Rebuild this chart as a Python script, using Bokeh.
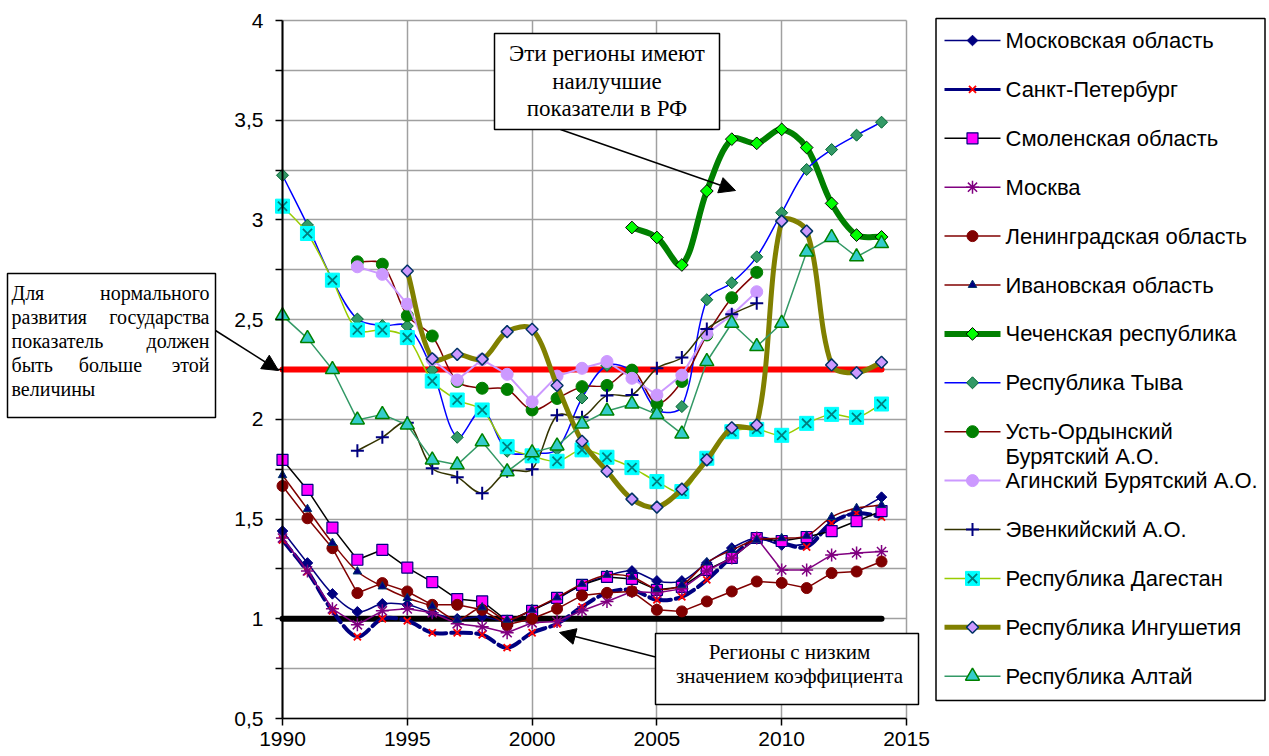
import numpy as np
from bokeh.plotting import figure
from bokeh.models import Range1d, FixedTicker, BoxAnnotation, Label, Arrow, NormalHead, ColumnDataSource
from bokeh.layouts import row
from bokeh.core.properties import value
from bokeh.embed import file_html
from bokeh.resources import INLINE

# ---------------- data ----------------
years = list(range(1990, 2015))
years_chechnya = list(range(2004, 2015))
years_ao = list(range(1993, 2010))
years_ingush = list(range(1995, 2015))

moscow_obl = [1.44, 1.28, 1.125, 1.035, 1.075, 1.07, 1.03, 1.0, 1.01, 0.99, 1.045, 1.10, 1.17,
              1.215, 1.24, 1.19, 1.19, 1.28, 1.355, 1.405, 1.37, 1.38, 1.49, 1.54, 1.61]
spb = [1.395, 1.237, 1.04, 0.91, 1.0, 0.99, 0.93, 0.93, 0.92, 0.855, 0.93, 0.975, 1.06,
       1.13, 1.145, 1.095, 1.11, 1.195, 1.31, 1.40, 1.38, 1.36, 1.48, 1.53, 1.51]
smolensk = [1.797, 1.646, 1.457, 1.296, 1.346, 1.257, 1.184, 1.099, 1.087, 0.99, 1.04, 1.105, 1.17,
            1.21, 1.20, 1.145, 1.16, 1.245, 1.305, 1.405, 1.39, 1.41, 1.44, 1.49, 1.54]
moskva = [1.405, 1.24, 1.05, 0.97, 1.04, 1.05, 1.03, 0.975, 0.96, 0.93, 0.98, 0.987, 1.04,
          1.087, 1.137, 1.13, 1.15, 1.24, 1.305, 1.405, 1.245, 1.245, 1.32, 1.33, 1.337]
leningrad = [1.666, 1.504, 1.354, 1.129, 1.179, 1.137, 1.07, 1.07, 1.045, 0.97, 1.0, 1.05, 1.117,
             1.13, 1.137, 1.045, 1.037, 1.087, 1.137, 1.187, 1.18, 1.154, 1.229, 1.237, 1.287]
ivanovo = [1.72, 1.55, 1.38, 1.237, 1.162, 1.104, 1.062, 0.995, 1.057, 0.995, 1.045, 1.107, 1.175,
           1.22, 1.21, 1.15, 1.17, 1.282, 1.345, 1.396, 1.404, 1.416, 1.51, 1.555, 1.57]
chechnya = [2.962, 2.912, 2.774, 3.145, 3.405, 3.384, 3.454, 3.363, 3.083, 2.924, 2.915]
tyva = [3.224, 2.974, 2.70, 2.503, 2.47, 2.468, 2.247, 1.91, 2.047, 1.84, 1.83, 1.85, 2.107,
        2.27, 2.24, 2.047, 2.064, 2.60, 2.685, 2.815, 3.036, 3.253, 3.353, 3.425, 3.49]
ust_orda = [2.79, 2.778, 2.52, 2.418, 2.19, 2.156, 2.15, 2.047, 2.105, 2.164, 2.17, 2.247,
            2.08, 2.19, 2.423, 2.61, 2.737]
aginsky = [2.765, 2.727, 2.578, 2.30, 2.197, 2.30, 2.226, 2.088, 2.217, 2.256, 2.29, 2.206,
           2.122, 2.222, 2.43, 2.523, 2.64]
evenki = [1.843, 1.91, 1.983, 1.755, 1.71, 1.63, 1.74, 1.75, 2.02, 2.01, 2.12, 2.122,
          2.256, 2.31, 2.453, 2.527, 2.582]
dagestan = [3.069, 2.932, 2.698, 2.448, 2.448, 2.41, 2.192, 2.097, 2.047, 1.863, 1.817, 1.79, 1.847,
            1.81, 1.758, 1.688, 1.638, 1.805, 1.938, 1.95, 1.92, 1.98, 2.025, 2.01, 2.077]
ingushetia = [2.744, 2.304, 2.326, 2.302, 2.44, 2.452, 2.17, 1.89, 1.74, 1.60, 1.56, 1.65,
              1.797, 1.958, 1.972, 2.994, 2.944, 2.273, 2.234, 2.286]
altai = [2.52, 2.406, 2.25, 1.997, 2.025, 1.972, 1.797, 1.772, 1.888, 1.738, 1.833, 1.867, 1.977,
         2.042, 2.077, 2.025, 1.927, 2.29, 2.482, 2.365, 2.482, 2.84, 2.912, 2.815, 2.882]

norm_high = 2.25   # "normal development" threshold
norm_low = 1.0     # low-coefficient threshold

x_min, x_max = 1990, 2015
y_min, y_max = 0.5, 4.0
x_ticks = [1990, 1995, 2000, 2005, 2010, 2015]
x_tick_labels = ["1990", "1995", "2000", "2005", "2010", "2015"]
y_ticks = [0.5, 0.75, 1.0, 1.25, 1.5, 1.75, 2.0, 2.25, 2.5, 2.75, 3.0, 3.25, 3.5, 3.75, 4.0]
y_tick_labels = ["0,5", "", "1", "", "1,5", "", "2", "", "2,5", "", "3", "", "3,5", "", "4"]

# ---------------- styles ----------------
D45 = np.pi / 4
series = [
    ("Московская область", years, moscow_obl, True,
     dict(line_color="#000080", line_width=1.5),
     [dict(marker="square", angle=D45, size=7.5, fill_color="#000080", line_color="#000080")]),
    ("Санкт-Петербург", years, spb, True,
     dict(line_color="#000080", line_width=4, line_dash="14 5"),
     [dict(marker="x", size=10, line_color="#FF0000", line_width=1.8)]),
    ("Смоленская область", years, smolensk, False,
     dict(line_color="#000000", line_width=1.5),
     [dict(marker="square", size=11, fill_color="#FF00FF", line_color="#000080", line_width=1.2)]),
    ("Москва", years, moskva, False,
     dict(line_color="#800080", line_width=1.5),
     [dict(marker="asterisk", size=13, line_color="#800080", line_width=1.5)]),
    ("Ленинградская область", years, leningrad, False,
     dict(line_color="#800000", line_width=1.5),
     [dict(marker="circle", size=11, fill_color="#800000", line_color="#800000")]),
    ("Ивановская область", years, ivanovo, True,
     dict(line_color="#800000", line_width=1.5),
     [dict(marker="triangle", size=8.5, fill_color="#000080", line_color="#003366", line_width=1)]),
    ("Чеченская республика", years_chechnya, chechnya, True,
     dict(line_color="#008000", line_width=6),
     [dict(marker="square", angle=D45, size=9, fill_color="#00FF00", line_color="#000000", line_width=1)]),
    ("Республика Тыва", years, tyva, True,
     dict(line_color="#0000FF", line_width=1.5),
     [dict(marker="square", angle=D45, size=8.5, fill_color="#339966", line_color="#006633", line_width=1)]),
    ("Усть-Ордынский\nБурятский А.О.", years_ao, ust_orda, True,
     dict(line_color="#800000", line_width=1.5),
     [dict(marker="circle", size=12, fill_color="#008000", line_color="#008000")]),
    ("Агинский Бурятский А.О.", years_ao, aginsky, False,
     dict(line_color="#CC99FF", line_width=2),
     [dict(marker="circle", size=12, fill_color="#CC99FF", line_color="#CC99FF")]),
    ("Эвенкийский А.О.", years_ao, evenki, True,
     dict(line_color="#333300", line_width=1.5),
     [dict(marker="cross", size=13, line_color="#000080", line_width=2)]),
    ("Республика Дагестан", years, dagestan, True,
     dict(line_color="#99CC00", line_width=1.5),
     [dict(marker="square", size=14, fill_color="#00FFFF", line_color="#00FFFF", line_width=1),
      dict(marker="x", size=13, line_color="#008080", line_width=1.8)]),
    ("Республика Ингушетия", years_ingush, ingushetia, True,
     dict(line_color="#808000", line_width=5),
     [dict(marker="square", angle=D45, size=8.5, fill_color="#CC99FF", line_color="#003366", line_width=1.5)]),
    ("Республика Алтай", years, altai, False,
     dict(line_color="#339966", line_width=1.5),
     [dict(marker="triangle", size=14, fill_color="#33CCCC", line_color="#008000", line_width=1.5)]),
]

# ---------------- layout geometry (pixels) ----------------
MAIN_W, H = 930, 756
FRAME_L, FRAME_R, FRAME_T, FRAME_B = 282, 906, 20, 718
SX = (FRAME_R - FRAME_L) / (x_max - x_min)
SY = (FRAME_B - FRAME_T) / (y_max - y_min)


def smooth_segments(xs, ys):
    P = np.column_stack([np.asarray(xs, float) * SX, np.asarray(ys, float) * SY])
    n = len(P)
    M = np.zeros_like(P)
    for i in range(n):
        a = P[max(i - 1, 0)]
        b = P[i]
        c = P[min(i + 1, n - 1)]
        den = np.linalg.norm(b - a) + np.linalg.norm(c - b)
        M[i] = (c - a) / den if den > 0 else 0
    d = np.linalg.norm(P[1:] - P[:-1], axis=1)[:, None]
    C0 = P[:-1] + M[:-1] * d / 3
    C1 = P[1:] - M[1:] * d / 3
    return dict(x0=P[:-1, 0] / SX, y0=P[:-1, 1] / SY, x1=P[1:, 0] / SX, y1=P[1:, 1] / SY,
                cx0=C0[:, 0] / SX, cy0=C0[:, 1] / SY, cx1=C1[:, 0] / SX, cy1=C1[:, 1] / SY)


# ---------------- main figure (frame = whole canvas, axes at fixed location) ----------------
xr = Range1d(x_min - FRAME_L / SX, x_max + (MAIN_W - FRAME_R) / SX)
yr = Range1d(y_min - (H - FRAME_B) / SY, y_max + FRAME_T / SY)
p = figure(width=MAIN_W, height=H, x_range=xr, y_range=yr,
           output_backend="svg", toolbar_location=None, min_border=0)
p.background_fill_color = "white"
p.border_fill_color = "white"
p.outline_line_color = None

p.xaxis.fixed_location = y_min
p.yaxis.fixed_location = x_min
p.xaxis.bounds = (x_min, x_max)
p.yaxis.bounds = (y_min, y_max)
p.xaxis.ticker = FixedTicker(ticks=x_ticks, minor_ticks=[])
p.yaxis.ticker = FixedTicker(ticks=y_ticks, minor_ticks=[])
p.xaxis.major_label_overrides = {t: l for t, l in zip(x_ticks, x_tick_labels)}
p.yaxis.major_label_overrides = {t: l for t, l in zip(y_ticks, y_tick_labels)}
for ax in (p.xaxis, p.yaxis):
    ax.axis_line_color = "black"
    ax.major_tick_line_color = "black"
    ax.major_tick_out = 7
    ax.major_tick_in = 0
    ax.minor_tick_line_color = None
    ax.major_label_text_font = "Liberation Sans"
    ax.major_label_text_font_size = "21px"
    ax.major_label_text_color = "black"
p.xaxis.axis_line_width = 1.5
p.yaxis.axis_line_width = 2
p.xaxis.major_tick_line_width = 1.5
p.yaxis.major_tick_line_width = 1.5
p.xaxis.major_label_standoff = 6
p.yaxis.major_label_standoff = 12

p.xgrid.bounds = (x_min, x_max)
p.ygrid.bounds = (y_min, y_max)
p.xgrid.cross_bounds = (y_min, y_max)
p.ygrid.cross_bounds = (x_min, x_max)
p.grid.grid_line_color = "#A0A0A0"
p.grid.grid_line_width = 1.5
p.grid.level = "image"

# threshold lines
p.segment(x0=years[0], x1=years[-1], y0=norm_high, y1=norm_high,
          line_color="#FF0000", line_width=6, line_cap="round")
p.segment(x0=years[0], x1=years[-1], y0=norm_low, y1=norm_low,
          line_color="#000000", line_width=6, line_cap="round")

for name, xs, ys, smooth, lkw, mkws in series:
    if smooth:
        src = ColumnDataSource(smooth_segments(xs, ys))
        p.bezier(x0="x0", y0="y0", x1="x1", y1="y1", cx0="cx0", cy0="cy0", cx1="cx1", cy1="cy1",
                 source=src, line_cap="round", **lkw)
    else:
        p.line(xs, ys, line_join="round", **lkw)
    for mkw in mkws:
        p.scatter(xs, ys, **mkw)


# ---------------- annotations ----------------
def dx(px):
    return x_min + (px - FRAME_L) / SX


def dy(py):
    return y_max - (py - FRAME_T) / SY


SERIF = "Liberation Serif"


def box(l, r, t, b):
    p.add_layout(BoxAnnotation(left=dx(l), right=dx(r), top=dy(t), bottom=dy(b),
                               fill_color="white", fill_alpha=1.0,
                               line_color="black", line_width=1.5, line_alpha=1.0))


def label(x, y, text, size, align="left"):
    p.add_layout(Label(x=dx(x), y=dy(y), text=text, text_font=SERIF, text_font_size=size,
                       text_align=align, text_baseline="middle", text_color="black"))


def arrow(x0, y0, x1, y1):
    p.add_layout(Arrow(end=NormalHead(size=16, fill_color="black", line_color="black"),
                       x_start=dx(x0), y_start=dy(y0), x_end=dx(x1), y_end=dy(y1),
                       line_color="black", line_width=1.5))


# left box (justified text)
arrow(215, 330, 278, 370)
box(7, 215, 273, 417)
label(11, 292, "Для", "20px", "left")
label(209, 292, "нормального", "20px", "right")
label(11, 316, "развития", "20px", "left")
label(209, 316, "государства", "20px", "right")
label(11, 340, "показатель", "20px", "left")
label(209, 340, "должен", "20px", "right")
label(11, 364, "быть", "20px", "left")
label(110, 364, "больше", "20px", "center")
label(209, 364, "этой", "20px", "right")
label(11, 388, "величины", "20px", "left")

# top box
arrow(560, 129, 735, 190)
box(494, 719, 33, 129)
label(606.5, 53, "Эти регионы имеют", "23px", "center")
label(606.5, 81, "наилучшие", "23px", "center")
label(606.5, 108, "показатели в РФ", "23px", "center")

# bottom box
arrow(657, 657, 559, 632)
box(655, 918, 633, 704)
label(789, 651, "Регионы с низким", "21px", "center")
label(789, 675, "значением коэффициента", "21px", "center")

# ---------------- legend (separate panel) ----------------
LW = 1269 - MAIN_W
lg = figure(width=LW, height=H, x_range=Range1d(0, LW), y_range=Range1d(H, 0),
            output_backend="svg", toolbar_location=None, min_border=0)
lg.axis.visible = False
lg.grid.visible = False
lg.outline_line_color = None
lg.background_fill_color = "white"
lg.border_fill_color = "white"

lg.quad(left=5.5, right=334.5, top=18, bottom=700, fill_color="white",
        line_color="black", line_width=1.5)

tx, ty, tt = [], [], []
for i, (name, xs, ys, smooth, lkw, mkws) in enumerate(series):
    yc = 40 + 48.9 * i
    lkw2 = {k: v for k, v in lkw.items() if k != "line_dash"}
    if name.startswith("Санкт"):
        lkw2["line_width"] = 3
    lg.segment(x0=14, x1=70, y0=yc, y1=yc, **lkw2)
    for mkw in mkws:
        lg.scatter([42], [yc], **mkw)
    for k, part in enumerate(name.split("\n")):
        tx.append(75)
        ty.append(yc + 25 * k)
        tt.append(part)

lg.text(tx, ty, tt, text_font=value("Liberation Sans"), text_font_size="22px",
        text_baseline="middle", text_align="left", text_color="black")

layout = row(p, lg)
open("out.html", "w").write(file_html(layout, INLINE))
